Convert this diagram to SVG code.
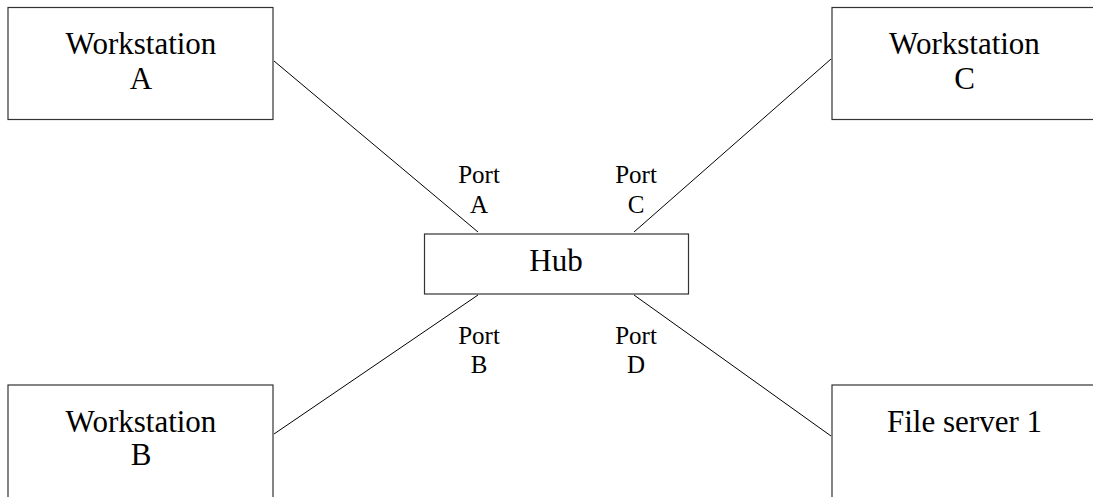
<svg xmlns="http://www.w3.org/2000/svg" width="1093" height="497" viewBox="0 0 1093 497">
<style>
.box{fill:#fff;stroke:#333;stroke-width:1.2}
.lbl{font-family:"Times New Roman","Liberation Serif","DejaVu Serif",serif;font-size:31px;fill:#000;text-anchor:middle}
.port{font-family:"Times New Roman","Liberation Serif","DejaVu Serif",serif;font-size:25px;fill:#000;text-anchor:middle}
.conn{stroke:#000;stroke-width:1;fill:none}
</style>
<rect width="1093" height="497" fill="#fff"/>
<g id="connectors">
<line class="conn" x1="274" y1="61" x2="478" y2="232"/>
<line class="conn" x1="831" y1="59" x2="634" y2="232"/>
<line class="conn" x1="274" y1="434" x2="478" y2="295"/>
<line class="conn" x1="831" y1="436" x2="634" y2="295"/>
</g>
<g id="workstation-a">
<rect class="box" x="8" y="7.5" width="265" height="112"/>
<text class="lbl" x="141" y="54">Workstation</text>
<text class="lbl" x="141" y="89">A</text>
</g>
<g id="workstation-c">
<rect class="box" x="832" y="7.5" width="280" height="112"/>
<text class="lbl" x="964.5" y="54">Workstation</text>
<text class="lbl" x="964.5" y="89">C</text>
</g>
<g id="workstation-b">
<rect class="box" x="8" y="385" width="265" height="130"/>
<text class="lbl" x="141" y="431.5">Workstation</text>
<text class="lbl" x="141" y="464.5">B</text>
</g>
<g id="file-server-1">
<rect class="box" x="832" y="385" width="280" height="130"/>
<text class="lbl" x="964.5" y="431.5">File server 1</text>
</g>
<g id="hub">
<rect class="box" x="424.5" y="234" width="264" height="60"/>
<text class="lbl" x="556" y="270.5">Hub</text>
</g>
<g id="port-labels">
<text class="port" x="479" y="183">Port</text>
<text class="port" x="479" y="212.5">A</text>
<text class="port" x="636" y="183">Port</text>
<text class="port" x="636" y="212.5">C</text>
<text class="port" x="479" y="344">Port</text>
<text class="port" x="479" y="373">B</text>
<text class="port" x="636" y="344">Port</text>
<text class="port" x="636" y="373">D</text>
</g>
</svg>
